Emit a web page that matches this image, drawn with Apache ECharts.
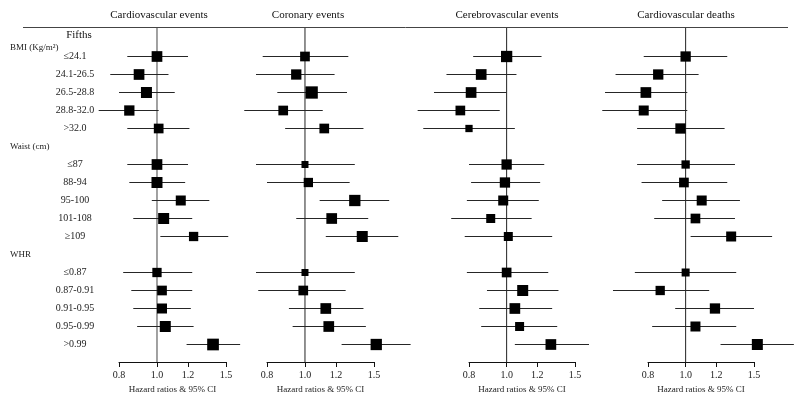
<!DOCTYPE html>
<html><head><meta charset="utf-8">
<script src="https://cdn.jsdelivr.net/npm/echarts@6/dist/echarts.min.js"></script>
<style>html,body{margin:0;padding:0;background:#fff}#c{width:800px;height:404px}</style>
</head><body><div id="c"></div>
<script>
// ---------- data ----------
const panelTitles = ['Cardiovascular events', 'Coronary events', 'Cerebrovascular events', 'Cardiovascular deaths'];
const groupLabels = ['BMI (Kg/m²)', 'Waist (cm)', 'WHR'];
const bmiCats = ['≤24.1', '24.1-26.5', '26.5-28.8', '28.8-32.0', '>32.0'];
const waistCats = ['≤87', '88-94', '95-100', '101-108', '≥109'];
const whrCats = ['≤0.87', '0.87-0.91', '0.91-0.95', '0.95-0.99', '>0.99'];
const fifthsLabel = 'Fifths';
const tickValues = [0.8, 1.0, 1.2, 1.5];
const tickLabels = ['0.8', '1.0', '1.2', '1.5'];
const axisTitle = 'Hazard ratios & 95% CI';

// Cardiovascular events
const cveHR = [1.00, 0.90, 0.94, 0.85, 1.01, 1.00, 1.00, 1.15, 1.04, 1.24, 1.00, 1.03, 1.03, 1.05, 1.39];
const cveLo = [0.84, 0.76, 0.80, 0.71, 0.84, 0.84, 0.85, 0.97, 0.87, 1.02, 0.82, 0.86, 0.87, 0.89, 1.19];
const cveHi = [1.20, 1.07, 1.11, 1.01, 1.21, 1.20, 1.18, 1.36, 1.23, 1.52, 1.23, 1.23, 1.22, 1.24, 1.63];
const cveW  = [10.7, 10.7, 11, 10.3, 9.7, 10.7, 11, 10, 11, 9.3, 9.3, 9.7, 10, 11, 11.7];
// Coronary events
const corHR = [1.00, 0.95, 1.04, 0.88, 1.12, 1.00, 1.02, 1.34, 1.17, 1.40, 1.00, 0.99, 1.13, 1.15, 1.52];
const corLo = [0.78, 0.75, 0.85, 0.70, 0.89, 0.75, 0.80, 1.09, 0.95, 1.13, 0.75, 0.76, 0.91, 0.93, 1.24];
const corHi = [1.29, 1.19, 1.28, 1.11, 1.41, 1.34, 1.30, 1.64, 1.45, 1.73, 1.34, 1.27, 1.41, 1.43, 1.86];
const corW  = [9.7, 10.3, 12.3, 9.7, 9.7, 7, 9.3, 11.3, 10.7, 11, 7, 9.7, 10.7, 10.7, 11.3];
// Cerebrovascular events
const cbvHR = [1.00, 0.86, 0.81, 0.76, 0.80, 1.00, 0.99, 0.98, 0.91, 1.01, 1.00, 1.10, 1.05, 1.08, 1.30];
const cbvLo = [0.82, 0.70, 0.65, 0.59, 0.61, 0.80, 0.81, 0.79, 0.72, 0.78, 0.79, 0.89, 0.85, 0.86, 1.05];
const cbvHi = [1.23, 1.06, 1.00, 0.96, 1.05, 1.25, 1.22, 1.21, 1.16, 1.31, 1.28, 1.36, 1.31, 1.35, 1.63];
const cbvW  = [11.3, 10.7, 10.7, 9.7, 7.3, 10.3, 10.3, 10, 9, 9, 9.7, 11, 10.7, 9, 10.7];
// Cardiovascular deaths
const cvdHR = [1.00, 0.85, 0.79, 0.78, 0.97, 1.00, 0.99, 1.10, 1.06, 1.31, 1.00, 0.86, 1.19, 1.06, 1.53];
const cvdLo = [0.78, 0.66, 0.62, 0.61, 0.75, 0.75, 0.77, 0.87, 0.83, 1.03, 0.74, 0.65, 0.94, 0.82, 1.23];
const cvdHi = [1.28, 1.08, 1.01, 1.01, 1.26, 1.34, 1.28, 1.38, 1.34, 1.67, 1.35, 1.15, 1.50, 1.35, 1.90];
const cvdW  = [10.3, 10.3, 10.7, 10, 10.3, 8.3, 9.7, 10, 9.7, 10, 8, 9.3, 10.3, 10, 11];

// ---------- build ----------
const FONT = "'Liberation Serif','Times New Roman',serif";
const rows = [groupLabels[0], ...bmiCats, groupLabels[1], ...waistCats, groupLabels[2], ...whrCats];
const dataCats = [...bmiCats, ...waistCats, ...whrCats];
const panels = [
  {hr: cveHR, lo: cveLo, hi: cveHi, w: cveW},
  {hr: corHR, lo: corLo, hi: corHi, w: corW},
  {hr: cbvHR, lo: cbvLo, hi: cbvHi, w: cbvW},
  {hr: cvdHR, lo: cvdLo, hi: cvdHi, w: cvdW}
];
const layout = [
  {left: 119, width: 107, titleX: 159, refColor: '#8a8a8a', refW: 1.6},
  {left: 267, width: 107, titleX: 308, refColor: '#222', refW: 1},
  {left: 469, width: 106, titleX: 507, refColor: '#222', refW: 1},
  {left: 648, width: 106, titleX: 686, refColor: '#222', refW: 1}
];
const LN = Math.log;
const xMin = LN(tickValues[0]), xMax = LN(tickValues[tickValues.length - 1]);
const tickLn = tickValues.map(LN);
const fmtTick = v => { for (let i = 0; i < tickLn.length; i++) if (Math.abs(tickLn[i] - v) < 1e-6) return tickLabels[i]; return ''; };

const grid = [], xAxis = [], yAxis = [], series = [], title = [];
panels.forEach((p, i) => {
  const L = layout[i];
  const gData = grid.length;
  grid.push({left: L.left, width: L.width, top: 29.5, height: 324});
  const gFrame = grid.length;
  grid.push({left: L.left, width: L.width, top: 27, height: 335});

  const xData = xAxis.length;
  xAxis.push({type: 'value', gridIndex: gData, min: xMin, max: xMax, show: false});
  const xFrame = xAxis.length;
  xAxis.push({
    type: 'value', gridIndex: gFrame, min: xMin, max: xMax, position: 'bottom',
    axisLine: {show: true, lineStyle: {color: '#111', width: 1}},
    axisTick: {show: true, customValues: tickLn, length: 5, lineStyle: {color: '#111'}},
    axisLabel: {show: true, customValues: tickLn, formatter: fmtTick, margin: 8,
      fontFamily: FONT, fontSize: 10, color: '#222'},
    splitLine: {show: false},
    name: axisTitle, nameLocation: 'middle', nameGap: 21,
    nameTextStyle: {fontFamily: FONT, fontSize: 9, color: '#222'}
  });

  const yData = yAxis.length;
  yAxis.push({
    type: 'category', gridIndex: gData, data: rows, inverse: true, position: 'left',
    axisLine: {show: false}, axisTick: {show: false}, splitLine: {show: false},
    axisLabel: {show: i === 0, interval: 0, align: 'center', margin: 44,
      fontFamily: FONT, fontSize: 10, color: '#222',
      formatter: v => groupLabels.includes(v) ? '' : v}
  });
  if (i === 0) {
    yAxis.push({
      type: 'category', gridIndex: gData, data: rows, inverse: true, position: 'left',
      axisLine: {show: false}, axisTick: {show: false}, splitLine: {show: false},
      axisLabel: {show: true, interval: 0, align: 'left', margin: 109,
        fontFamily: FONT, fontSize: 9, color: '#222',
        formatter: v => !groupLabels.includes(v) ? '' : (v === groupLabels[0] ? '{s|' + v + '}' : v),
        rich: {s: {fontFamily: FONT, fontSize: 9, color: '#222', padding: [19, 0, 0, 0]}}}
    });
  }
  const yFrame = yAxis.length;
  yAxis.push({type: 'value', gridIndex: gFrame, min: 0, max: 1, show: false});

  // reference line at HR = 1
  series.push({
    type: 'line', xAxisIndex: xFrame, yAxisIndex: yFrame, silent: true, symbol: 'none',
    data: [[LN(1), 0], [LN(1), 1]], lineStyle: {color: L.refColor, width: L.refW}, z: 1, animation: false
  });
  // confidence intervals
  series.push({
    type: 'custom', xAxisIndex: xData, yAxisIndex: yData, silent: true, animation: false, z: 2,
    encode: {x: [0, 1], y: 2},
    data: dataCats.map((c, k) => [LN(p.lo[k]), LN(p.hi[k]), rows.indexOf(c)]),
    renderItem: (params, api) => {
      const a = api.coord([api.value(0), api.value(2)]);
      const b = api.coord([api.value(1), api.value(2)]);
      return {type: 'line', shape: {x1: a[0], y1: a[1], x2: b[0], y2: b[1]},
        style: {stroke: '#262626', lineWidth: 1}};
    }
  });
  // point estimates
  series.push({
    type: 'scatter', xAxisIndex: xData, yAxisIndex: yData, symbol: 'rect', clip: false,
    silent: true, animation: false, z: 3,
    data: dataCats.map((c, k) => [LN(p.hr[k]), rows.indexOf(c), p.w[k]]),
    symbolSize: v => v[2], itemStyle: {color: '#000', opacity: 1}
  });

  title.push({text: panelTitles[i], left: L.titleX, top: 9.5, padding: 0, textAlign: 'center',
    textStyle: {fontFamily: FONT, fontSize: 11, fontWeight: 'normal', color: '#111'}});
});
title.push({text: fifthsLabel, left: 79, top: 30, padding: 0, textAlign: 'center',
  textStyle: {fontFamily: FONT, fontSize: 11, fontWeight: 'normal', color: '#111'}});

const chart = echarts.init(document.getElementById('c'), null, {renderer: 'canvas'});
chart.setOption({
  backgroundColor: '#fff',
  animation: false,
  title, grid, xAxis, yAxis, series,
  graphic: [{type: 'line', shape: {x1: 23, y1: 27.5, x2: 788, y2: 27.5}, style: {stroke: '#444', lineWidth: 1}, z: 10}]
});
</script>
</body></html>
